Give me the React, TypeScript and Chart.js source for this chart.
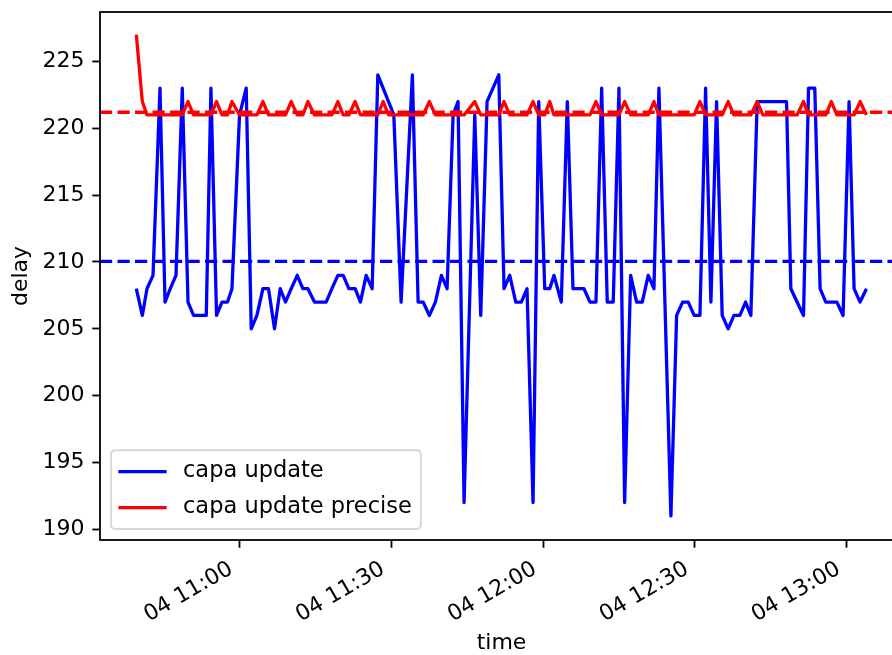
import React, { useEffect, useRef } from "react";
import { Chart, registerables } from "chart.js";

Chart.register(...registerables);

// time in minutes after midnight of day 04
const times = [
  639.67, 640.86, 641.78, 642.97, 644.35, 645.34, 646.38, 647.51, 648.75, 649.88,
  650.98, 652.2, 653.49, 654.41, 655.52, 656.59, 657.69, 658.56, 660.06, 661.38,
  662.37, 663.49, 664.68, 665.78, 666.97, 668.09, 669.14, 670.26, 671.45, 672.57,
  673.56, 674.86, 675.99, 677.17, 678.3, 679.48, 680.53, 681.65, 682.89, 683.94,
  685.07, 686.25, 687.37, 688.42, 689.51, 690.53, 691.97, 694.2, 695.33, 696.32,
  697.56, 698.74, 699.93, 701.05, 702.24, 703.22, 704.41, 706.52, 707.7, 708.95,
  710.13, 711.26, 712.3, 713.43, 714.61, 715.72, 716.84, 718.03, 719.15, 720.34,
  721.32, 722.17, 723.61, 724.8, 725.92, 727.01, 728.09, 729.28, 730.46, 731.58,
  732.69, 733.87, 735.0, 736.12, 737.31, 738.49, 739.6, 740.78, 741.91, 742.89,
  745.26, 746.39, 747.57, 748.68, 749.86, 750.99, 752.11, 753.16, 754.28, 755.39,
  756.57, 757.7, 758.88, 760.01, 761.05, 762.3, 763.42, 764.6, 765.79, 766.97,
  768.1, 768.95, 770.19, 771.45, 772.44, 773.68, 774.73, 775.85, 776.94, 778.03,
  779.27, 780.45, 781.44, 782.62, 783.89,
];

// null = no "capa update" sample at that time (line joins across it)
const capaUpdate = [
  208, 206, 208, 209, 223, 207, 208, 209, 223, 207,
  206, 206, 206, 223, 206, 207, 207, 208, 221, 223,
  205, 206, 208, 208, 205, 208, 207, 208, 209, 208,
  208, 207, 207, 207, 208, 209, 209, 208, 208, 207,
  209, 208, 224, null, null, 221, 207, 224, 207, 207,
  206, 207, 209, 208, 221, 222, 192, 221, 206, 222,
  null, 224, 208, 209, 207, 207, 208, 192, 222, 208,
  208, 209, 207, 222, 208, 208, 208, 207, 207, 223,
  207, 207, 223, 192, 209, 207, 207, 209, 208, 223,
  191, 206, 207, 207, 206, 206, 223, 207, 222, 206,
  205, 206, 206, 207, 206, 222, null, null, null, null,
  222, 208, null, 206, 223, 223, 208, 207, 207, 207,
  206, 222, 208, 207, 208,
];

const capaUpdatePrecise = [
  227, 222, 221, 221, 221, 221, 221, 221, 221, 222,
  221, 221, 221, 221, 222, 221, 221, 222, 221, 221,
  221, 221, 222, 221, 221, 221, 221, 222, 221, 221,
  222, 221, 221, 221, 221, 222, 221, 221, 222, 221,
  221, 221, 221, 222, 221, 221, 221, 221, 221, 221,
  222, 221, 221, 221, 221, 221, 221, 222, 221, 221,
  221, 221, 222, 221, 221, 221, 221, 222, 221, 221,
  222, 221, 221, 221, 221, 221, 221, 221, 222, 221,
  221, 221, 221, 222, 221, 221, 221, 221, 222, 221,
  221, 221, 221, 221, 221, 222, 221, 221, 221, 221,
  222, 221, 221, 221, 221, 222, 221, 221, 221, 221,
  221, 221, 221, 222, 221, 221, 221, 221, 222, 221,
  221, 221, 221, 222, 221,
];

const capaUpdateMean = 210.05;
const capaUpdatePreciseMean = 221.2;

const xTickValues = [660, 690, 720, 750, 780];
const xTickLabels = ["04 11:00", "04 11:30", "04 12:00", "04 12:30", "04 13:00"];
const yTickValues = [190, 195, 200, 205, 210, 215, 220, 225];

const xMin = 632.5;
const xMax = 791.1;
const yMin = 189.2;
const yMax = 228.7;

const FONT = "DejaVu Sans";
const FS = 22;
const LEGEND_FS = 22.5;

const spinesPlugin = {
  id: "spines",
  afterDatasetsDraw(chart: any) {
    const { ctx, chartArea } = chart;
    const { left, top, right, bottom } = chartArea;
    ctx.save();
    ctx.strokeStyle = "#000";
    ctx.lineWidth = 1.8;
    ctx.strokeRect(left, top, right - left, bottom - top);
    ctx.restore();
  },
};

const legendPlugin = {
  id: "innerLegend",
  afterDraw(chart: any) {
    const { ctx, chartArea } = chart;
    const items = chart.data.datasets.slice(0, 2);
    const fs = LEGEND_FS;
    const pad = 0.4 * fs;
    const handleLen = 2 * fs;
    const handleTextPad = 0.8 * fs;
    const rowH = 1.1 * fs;
    const spacing = 0.5 * fs;
    ctx.save();
    ctx.font = `${fs}px "${FONT}"`;
    const textW = Math.max(...items.map((d: any) => ctx.measureText(d.label).width));
    const w = 2 * pad + handleLen + handleTextPad + textW;
    const h = 2 * pad + items.length * rowH + (items.length - 1) * spacing;
    const x0 = chartArea.left + 0.5 * FS;
    const y0 = chartArea.bottom - 0.5 * FS - h;
    const r = 4.4;
    ctx.beginPath();
    ctx.moveTo(x0 + r, y0);
    ctx.lineTo(x0 + w - r, y0);
    ctx.quadraticCurveTo(x0 + w, y0, x0 + w, y0 + r);
    ctx.lineTo(x0 + w, y0 + h - r);
    ctx.quadraticCurveTo(x0 + w, y0 + h, x0 + w - r, y0 + h);
    ctx.lineTo(x0 + r, y0 + h);
    ctx.quadraticCurveTo(x0, y0 + h, x0, y0 + h - r);
    ctx.lineTo(x0, y0 + r);
    ctx.quadraticCurveTo(x0, y0, x0 + r, y0);
    ctx.closePath();
    ctx.fillStyle = "rgba(255,255,255,0.8)";
    ctx.fill();
    ctx.strokeStyle = "rgba(204,204,204,0.8)";
    ctx.lineWidth = 1.8;
    ctx.stroke();
    items.forEach((d: any, i: number) => {
      const cy = y0 + pad + i * (rowH + spacing) + rowH / 2;
      ctx.beginPath();
      ctx.moveTo(x0 + pad, cy);
      ctx.lineTo(x0 + pad + handleLen, cy);
      ctx.strokeStyle = d.borderColor;
      ctx.lineWidth = 3.3;
      ctx.lineCap = "square";
      ctx.stroke();
      ctx.fillStyle = "#000";
      ctx.textAlign = "left";
      ctx.textBaseline = "middle";
      ctx.fillText(d.label, x0 + pad + handleLen + handleTextPad, cy);
    });
    ctx.restore();
  },
};

export default function App() {
  const canvasRef = useRef<HTMLCanvasElement | null>(null);

  useEffect(() => {
    const canvas = canvasRef.current;
    if (!canvas) return;
    const lineCommon = {
      pointRadius: 0,
      pointHoverRadius: 0,
      fill: false,
      tension: 0,
      spanGaps: true,
      borderJoinStyle: "round" as const,
    };
    const chart = new Chart(canvas, {
      type: "line",
      data: {
        datasets: [
          {
            ...lineCommon,
            label: "capa update",
            data: times.map((t, i) => ({ x: t, y: capaUpdate[i] })),
            borderColor: "#0000ff",
            borderWidth: 3.3,
            order: 4,
          },
          {
            ...lineCommon,
            label: "capa update precise",
            data: times.map((t, i) => ({ x: t, y: capaUpdatePrecise[i] })),
            borderColor: "#ff0000",
            borderWidth: 3.3,
            order: 3,
          },
          {
            ...lineCommon,
            label: "capa update mean",
            data: [
              { x: xMin, y: capaUpdateMean },
              { x: xMax, y: capaUpdateMean },
            ],
            borderColor: "#0000ff",
            borderWidth: 3.3,
            borderDash: [12.2, 5.3],
            order: 2,
          },
          {
            ...lineCommon,
            label: "capa update precise mean",
            data: [
              { x: xMin, y: capaUpdatePreciseMean },
              { x: xMax, y: capaUpdatePreciseMean },
            ],
            borderColor: "#ff0000",
            borderWidth: 3.3,
            borderDash: [12.2, 5.3],
            order: 1,
          },
        ],
      },
      options: {
        animation: false,
        responsive: false,
        devicePixelRatio: 1,
        events: [],
        layout: { padding: { left: 0, top: 12, right: 17, bottom: 0 } },
        plugins: {
          legend: { display: false },
          tooltip: { enabled: false },
        },
        scales: {
          x: {
            type: "linear",
            min: xMin,
            max: xMax,
            afterBuildTicks: (s: any) => {
              s.ticks = xTickValues.map((v) => ({ value: v }));
            },
            afterFit: (s: any) => {
              s.height = 115;
              s.paddingLeft = 0;
              s.paddingRight = 0;
            },
            border: { display: false },
            grid: {
              display: true,
              drawOnChartArea: false,
              drawTicks: true,
              tickLength: 7.7,
              tickWidth: 1.8,
              tickColor: "#000",
            },
            ticks: {
              autoSkip: false,
              minRotation: 30,
              maxRotation: 30,
              padding: 8.5,
              labelOffset: -8,
              color: "#000",
              font: { family: FONT, size: FS },
              callback: (v: any) => {
                const i = xTickValues.indexOf(Number(v));
                return i >= 0 ? xTickLabels[i] : "";
              },
            },
            title: {
              display: true,
              text: "time",
              color: "#000",
              font: { family: FONT, size: FS },
              padding: { top: 0, bottom: -1 },
            },
          },
          y: {
            type: "linear",
            min: yMin,
            max: yMax,
            afterBuildTicks: (s: any) => {
              s.ticks = yTickValues.map((v) => ({ value: v }));
            },
            afterFit: (s: any) => {
              s.width = 100;
              s.paddingTop = 0;
              s.paddingBottom = 0;
            },
            border: { display: false },
            grid: {
              display: true,
              drawOnChartArea: false,
              drawTicks: true,
              tickLength: 7.7,
              tickWidth: 1.8,
              tickColor: "#000",
            },
            ticks: {
              autoSkip: false,
              padding: 7.7,
              color: "#000",
              font: { family: FONT, size: FS },
              callback: (v: any) => String(v),
            },
            title: {
              display: true,
              text: "delay",
              color: "#000",
              font: { family: FONT, size: FS },
              padding: { top: 8, bottom: 0 },
            },
          },
        },
      },
      plugins: [spinesPlugin, legendPlugin],
    } as any);
    return () => chart.destroy();
  }, []);

  return (
    <div
      style={{
        position: "fixed",
        left: 0,
        top: 0,
        width: 892,
        height: 655,
        overflow: "hidden",
        background: "#fff",
      }}
    >
      <canvas ref={canvasRef} width={920} height={655} style={{ display: "block", width: 920, height: 655 }} />
    </div>
  );
}
